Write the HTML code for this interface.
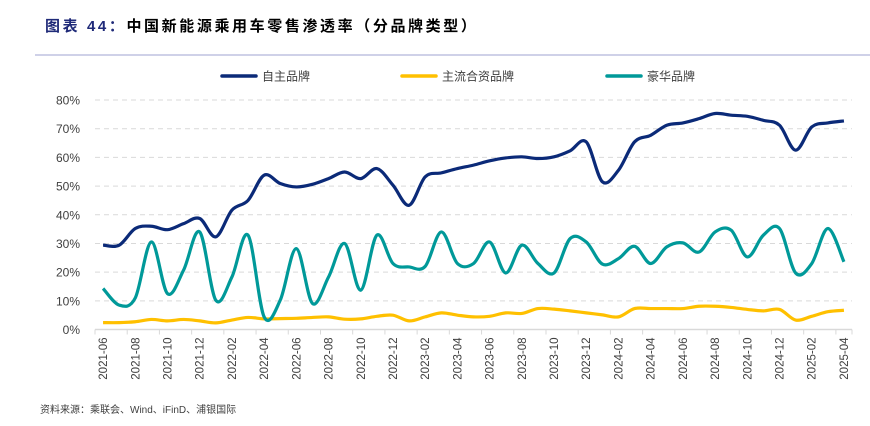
<!DOCTYPE html>
<html><head><meta charset="utf-8"><style>
body{margin:0;background:#fff;width:870px;height:426px;overflow:hidden;font-family:"Liberation Sans","Noto Sans CJK SC",sans-serif}
svg{display:block}
</style></head><body>
<svg id="c" width="870" height="426"></svg>
<script>
const categories=[];for(let y=2021,m=6;!(y===2025&&m===5);){categories.push(y+'-'+String(m).padStart(2,'0'));m++;if(m>12){m=1;y++;}}
const ownBrand=[29.4,29.4,35.2,36,34.8,36.9,38.7,32.3,41.6,45,53.8,50.9,49.7,50.6,52.6,54.9,52.6,56.1,50.3,43.3,53.2,54.6,56.1,57.3,58.8,59.8,60.2,59.6,60.2,62.3,65.4,51.5,55.5,65.4,67.7,71.2,72,73.5,75.3,74.7,74.3,72.9,71.2,62.5,70.6,72,72.7];
const mainstreamJV=[2.4,2.4,2.7,3.5,3,3.5,3,2.3,3.3,4.2,3.7,3.8,3.9,4.2,4.4,3.6,3.7,4.6,5,3,4.4,5.8,5,4.4,4.6,5.8,5.6,7.3,7.1,6.5,5.8,5.1,4.4,7.3,7.3,7.3,7.3,8.1,8.1,7.7,7,6.5,7,3.3,4.6,6.2,6.7];
const luxury=[14.3,8.5,11,30.5,12.5,20.7,34,10.2,18.3,32.9,4.4,10.2,28.2,9.1,18.3,30,13.7,32.9,23,21.8,22,34,23,23,30.5,19.7,29.4,23,19.7,31.7,30.5,22.8,24.7,29,23,28.8,30.2,27,34,34.6,25.3,32.9,35.2,19.7,23,35.2,23.6];
const yTicks=[0,10,20,30,40,50,60,70,80];
const seriesNames=['自主品牌','主流合资品牌','豪华品牌'];
const NS='http://www.w3.org/2000/svg',svg=document.getElementById('c');
const L=95,R=852,Y0=329.5,Y80=100;
const bw=(R-L)/categories.length;
const x=i=>L+bw*(i+0.5), y=v=>Y0-(v/80)*(Y0-Y80);
function mk(t,a,txt){const e=document.createElementNS(NS,t);for(const k in a)e.setAttribute(k,a[k]);if(txt!=null)e.textContent=txt;svg.appendChild(e);return e;}
let e=mk('text',{x:45,y:31,'font-size':15,'font-weight':'bold','letter-spacing':'2.6',fill:'#000'});

const t1=document.createElementNS(NS,'tspan');t1.setAttribute('fill','#1f2a78');t1.textContent='图表 44：';e.appendChild(t1);
const t2=document.createElementNS(NS,'tspan');t2.textContent='中国新能源乘用车零售渗透率（分品牌类型）';e.appendChild(t2);
e=mk('line',{x1:35,y1:55,x2:870,y2:55,stroke:'#9fa3d0','stroke-width':1});

yTicks.forEach(t=>{
 if(t>0){e=mk('line',{x1:L,x2:R,y1:y(t),y2:y(t),stroke:'#d9d9d9','stroke-dasharray':'5,4'});}
 e=mk('text',{x:80,y:y(t)+4.5,'font-size':12,'text-anchor':'end',fill:'#404040'},t+'%');
 
});
e=mk('line',{x1:L,x2:R,y1:Y0,y2:Y0,stroke:'#d9d9d9','stroke-width':1.5});
categories.forEach((c,i)=>{
 if(i%2===0){
  e=mk('line',{x1:L+bw*i,x2:L+bw*i,y1:Y0,y2:Y0+5,stroke:'#d9d9d9'});
  e=mk('text',{x:0,y:0,'font-size':11.5,'text-anchor':'end',fill:'#404040',transform:`translate(${x(i)+4},${Y0+8}) rotate(-90)`},c);
  
 }
});
e=mk('line',{x1:R,x2:R,y1:Y0,y2:Y0+5,stroke:'#d9d9d9'});
function path(d){const p=d.map((v,i)=>[x(i),y(v)]);let s=`M${p[0][0]},${p[0][1]}`;
 for(let i=0;i<p.length-1;i++){const a=p[i-1]||p[i],b=p[i],c=p[i+1],n=p[i+2]||c;
  s+=`C${b[0]+(c[0]-a[0])/6},${b[1]+(c[1]-a[1])/6} ${c[0]-(n[0]-b[0])/6},${c[1]-(n[1]-b[1])/6} ${c[0]},${c[1]}`;}return s;}
const cols=['#0b2a78','#ffc000','#009999'];
[[mainstreamJV,1,'mainstream-jv-line'],[luxury,2,'luxury-line'],[ownBrand,0,'own-brand-line']].forEach(([d,k,n])=>{
 e=mk('path',{d:path(d),fill:'none',stroke:cols[k],'stroke-width':3.2,'stroke-linejoin':'round'});
 
});
[[222,0],[402,1],[607,2]].forEach(([lx,k])=>{
 e=mk('line',{x1:lx,x2:lx+34,y1:76,y2:76,stroke:cols[k],'stroke-width':3.5,'stroke-linecap':'round'});
 
 e=mk('text',{x:lx+40,y:80.5,'font-size':12,fill:'#404040'},seriesNames[k]);
 
});
e=mk('text',{x:40,y:413,'font-size':10,fill:'#404040'},'资料来源：乘联会、Wind、iFinD、浦银国际');

</script>
</body></html>
